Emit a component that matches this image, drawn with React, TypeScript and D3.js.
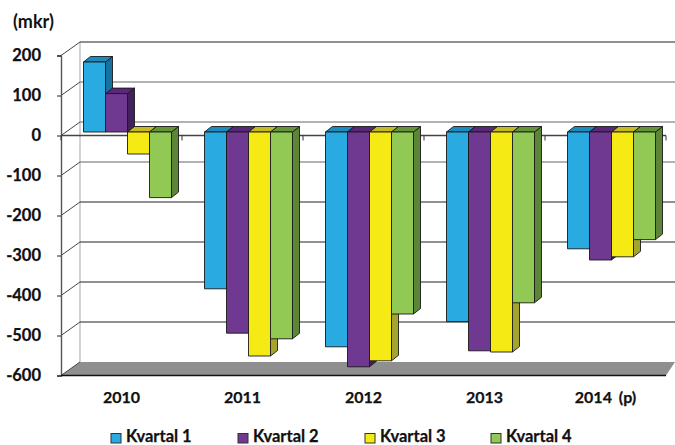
import React, { useEffect, useRef } from "react";
import * as d3 from "d3";

const years = ["2010", "2011", "2012", "2013", "2014 (p)"];
const quarters = ["Kvartal 1", "Kvartal 2", "Kvartal 3", "Kvartal 4"];
const kvartal1 = [175, -392, -537, -474, -292];
const kvartal2 = [96, -503, -587, -547, -320];
const kvartal3 = [-55, -560, -572, -550, -312];
const kvartal4 = [-164, -517, -455, -427, -269];
const yTicks = [200, 100, 0, -100, -200, -300, -400, -500, -600];

const seriesValues = [kvartal1, kvartal2, kvartal3, kvartal4];
const frontColors = ["#29abe2", "#6f3891", "#f5ea14", "#92c954"];
const topColors = ["#1c8cc0", "#59287a", "#c4bc22", "#659439"];
const sideColors = ["#17729e", "#43215c", "#a3a52e", "#5c8537"];
const legendX = [111, 238, 365, 491];

const FONT = "Lato, 'Open Sans', sans-serif";

const App: React.FC = () => {
  const svgRef = useRef<SVGSVGElement | null>(null);

  useEffect(() => {
    if (!svgRef.current) return;
    const svg = d3.select(svgRef.current);
    svg.selectAll("*").remove();

    // front plane of the fake 3D box
    const left = 61;
    const right = 666;
    const wallDx = 19;
    const wallDy = -13.5;
    const barDx = 7;
    const barDy = -5.5;
    const barLift = -3.5;

    const y = d3.scaleLinear().domain([-600, 200]).range([375.5, 55.5]);
    const x = d3.scaleBand<string>().domain(years).range([left, right]);
    const q = d3
      .scaleBand<string>()
      .domain(quarters)
      .range([22.5, 110.5]);

    const poly = (pts: [number, number][]) => pts.map((p) => p.join(",")).join(" ");

    // floor
    svg
      .append("polygon")
      .attr(
        "points",
        poly([
          [left, y(-600)],
          [left + wallDx, y(-600) + wallDy],
          [right + wallDx - 10, y(-600) + wallDy],
          [right, y(-600)],
        ])
      )
      .attr("fill", "#8f8f8f");

    // back wall edge
    svg
      .append("line")
      .attr("x1", left + wallDx)
      .attr("x2", left + wallDx)
      .attr("y1", y(200) + wallDy)
      .attr("y2", y(-600) + wallDy)
      .attr("stroke", "#b5b5b5")
      .attr("stroke-width", 1.2);

    // grid on back wall and diagonals on the side wall
    yTicks.forEach((t) => {
      const yy = y(t);
      svg
        .append("line")
        .attr("x1", left)
        .attr("y1", yy)
        .attr("x2", left + wallDx)
        .attr("y2", yy + wallDy)
        .attr("stroke", "#444")
        .attr("stroke-width", 1);
      if (t === -600) return;
      svg
        .append("line")
        .attr("x1", left + wallDx)
        .attr("x2", 675)
        .attr("y1", yy + wallDy)
        .attr("y2", yy + wallDy)
        .attr("stroke", t === 200 || t <= -200 ? "#222" : "#666")
        .attr("stroke-width", 1.1);
    });

    // axes
    const yAxis = svg
      .append("g")
      .attr("transform", `translate(${left},0)`)
      .call(d3.axisLeft(y).tickValues(yTicks).tickSize(4).tickPadding(16).tickFormat((d) => String(d)));
    yAxis.select(".domain").attr("stroke", "#555").attr("stroke-width", 1.4);
    yAxis.selectAll("line").attr("stroke", "#222");
    yAxis
      .selectAll("text")
      .attr("font-family", FONT)
      .attr("font-size", 16.5)
      .attr("font-weight", 700)
      .attr("stroke", "#111")
      .attr("stroke-width", 0.25)
      .attr("fill", "#111");

    svg
      .append("line")
      .attr("x1", left)
      .attr("x2", right)
      .attr("y1", y(0))
      .attr("y2", y(0))
      .attr("stroke", "#444")
      .attr("stroke-width", 1.4);
    svg
      .append("line")
      .attr("x1", left)
      .attr("x2", right)
      .attr("y1", y(-600))
      .attr("y2", y(-600))
      .attr("stroke", "#111")
      .attr("stroke-width", 1.4);

    // small category ticks on the zero line
    [...years.map((d) => x(d)!), right].forEach((tx) => {
      svg
        .append("line")
        .attr("x1", tx)
        .attr("x2", tx)
        .attr("y1", y(0))
        .attr("y2", y(0) + 5)
        .attr("stroke", "#333")
        .attr("stroke-width", 1);
    });

    // bars, left to right so each front covers the previous side
    const zero = y(0) + barLift;
    years.forEach((year, i) => {
      quarters.forEach((quarter, s) => {
        const val = seriesValues[s][i];
        const bx = x(year)! + q(quarter)!;
        const w = q.bandwidth();
        const end = y(val) + barLift;
        const top = Math.min(zero, end);
        const bottom = Math.max(zero, end);
        const g = svg.append("g").attr("stroke", "#1a1a1a").attr("stroke-width", 0.9).attr("stroke-linejoin", "round");
        g.append("polygon")
          .attr(
            "points",
            poly([
              [bx + w, top],
              [bx + w + barDx, top + barDy],
              [bx + w + barDx, bottom + barDy],
              [bx + w, bottom],
            ])
          )
          .attr("fill", sideColors[s]);
        g.append("polygon")
          .attr(
            "points",
            poly([
              [bx, top],
              [bx + barDx, top + barDy],
              [bx + w + barDx, top + barDy],
              [bx + w, top],
            ])
          )
          .attr("fill", topColors[s]);
        g.append("rect")
          .attr("x", bx)
          .attr("y", top)
          .attr("width", w)
          .attr("height", bottom - top)
          .attr("fill", frontColors[s]);
      });
    });

    // category labels
    svg
      .append("g")
      .selectAll("text")
      .data(years)
      .enter()
      .append("text")
      .attr("x", (d) => x(d)! + x.bandwidth() / 2)
      .attr("y", 403)
      .attr("text-anchor", "middle")
      .attr("font-family", FONT)
      .attr("font-size", 16)
      .attr("font-weight", 700)
      .attr("word-spacing", 3)
      .attr("stroke", "#111")
      .attr("stroke-width", 0.25)
      .attr("fill", "#111")
      .text((d) => d);

    // unit label
    svg
      .append("text")
      .attr("x", 13)
      .attr("y", 28)
      .attr("font-family", FONT)
      .attr("font-size", 18)
      .attr("font-weight", 700)
      .attr("fill", "#111")
      .text("(mkr)");

    // legend
    quarters.forEach((quarter, s) => {
      svg
        .append("rect")
        .attr("x", legendX[s])
        .attr("y", 433.5)
        .attr("width", 10)
        .attr("height", 9.5)
        .attr("fill", frontColors[s])
        .attr("stroke", "#333")
        .attr("stroke-width", 1);
      svg
        .append("text")
        .attr("x", legendX[s] + 15)
        .attr("y", 441.5)
        .attr("font-family", FONT)
        .attr("font-size", 16.5)
        .attr("font-weight", 700)
        .attr("stroke", "#111")
        .attr("stroke-width", 0.25)
        .attr("fill", "#111")
        .text(quarter);
    });
  }, []);

  return (
    <svg
      ref={svgRef}
      width={675}
      height={445}
      style={{ position: "absolute", left: 0, top: 0, background: "#fff" }}
    ></svg>
  );
};

export default App;
